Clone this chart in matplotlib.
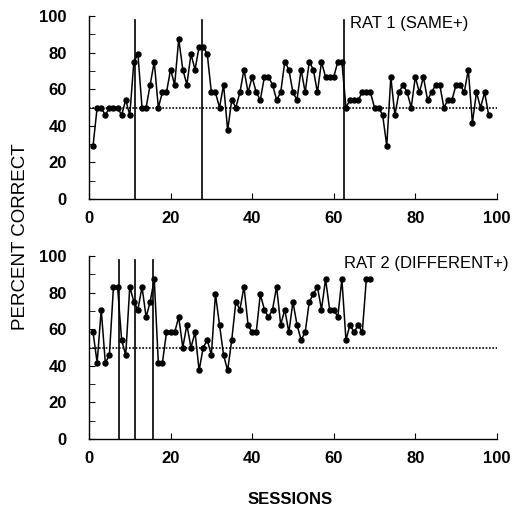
import numpy as np
import matplotlib
matplotlib.use("Agg")
import matplotlib.pyplot as plt

plt.rcParams['font.family'] = ['Liberation Sans', 'DejaVu Sans']

# percent correct per session (24 trials per session)
rat1_pct = [29.2, 50, 50, 45.8, 50, 50, 50, 45.8, 54.2, 45.8,
            75, 79.2, 50, 50, 62.5, 75, 50, 58.3, 58.3, 70.8,
            62.5, 87.5, 70.8, 62.5, 79.2, 70.8, 83.3, 83.3, 79.2, 58.3,
            58.3, 50, 62.5, 37.5, 54.2, 50, 58.3, 70.8, 58.3, 66.7,
            58.3, 54.2, 66.7, 66.7, 62.5, 54.2, 58.3, 75, 70.8, 58.3,
            54.2, 70.8, 58.3, 75, 70.8, 58.3, 75, 66.7, 66.7, 66.7,
            75, 75, 50, 54.2, 54.2, 54.2, 58.3, 58.3, 58.3, 50,
            50, 45.8, 29.2, 66.7, 45.8, 58.3, 62.5, 58.3, 50, 66.7,
            58.3, 66.7, 54.2, 58.3, 62.5, 62.5, 50, 54.2, 54.2, 62.5,
            62.5, 58.3, 70.8, 41.7, 58.3, 50, 58.3, 45.8]

rat2_pct = [58.3, 41.7, 70.8, 41.7, 45.8, 83.3, 83.3, 54.2, 45.8, 83.3,
            75, 70.8, 83.3, 66.7, 75, 87.5, 41.7, 41.7, 58.3, 58.3,
            58.3, 66.7, 50, 62.5, 50, 58.3, 37.5, 50, 54.2, 45.8,
            79.2, 62.5, 45.8, 37.5, 54.2, 75, 70.8, 83.3, 62.5, 58.3,
            58.3, 79.2, 70.8, 66.7, 70.8, 83.3, 62.5, 70.8, 58.3, 75,
            62.5, 54.2, 58.3, 75, 79.2, 83.3, 70.8, 87.5, 70.8, 70.8,
            66.7, 87.5, 54.2, 62.5, 58.3, 62.5, 58.3, 87.5, 87.5]

rat1_shifts = [11.3, 27.75, 62.5]
rat2_shifts = [7.25, 11.3, 15.7]

panels = [
    ("RAT 1 (SAME+)", rat1_pct, rat1_shifts, (64, 96)),
    ("RAT 2 (DIFFERENT+)", rat2_pct, rat2_shifts, (62.5, 96)),
]

fig = plt.figure(figsize=(5.15, 5.05), dpi=100)
ax_top = fig.add_axes([0.1728, 0.606, 0.792, 0.362])
ax_bot = fig.add_axes([0.1728, 0.1307, 0.792, 0.362])

for ax, (title, pct, shifts, txt_pos) in zip([ax_top, ax_bot], panels):
    sessions = np.arange(1, len(pct) + 1)
    ax.axhline(50, color='black', linestyle=(0, (1, 1)), linewidth=1.2)
    for s in shifts:
        ax.plot([s, s], [0, 98], color='black', linewidth=1.2)
    ax.plot(sessions, pct, color='black', linewidth=1.1,
            marker='o', markersize=3.6)
    ax.text(txt_pos[0], txt_pos[1], title, fontsize=12, ha='left', va='center')

    ax.set_xlim(0, 100)
    ax.set_ylim(0, 100)
    ax.set_xticks(range(0, 101, 20))
    ax.set_yticks(range(0, 101, 20))
    ax.set_yticks(range(0, 101, 10), minor=True)
    ax.spines['top'].set_visible(False)
    ax.spines['right'].set_visible(False)
    ax.spines['left'].set_linewidth(1.0)
    ax.spines['bottom'].set_linewidth(1.0)
    ax.tick_params(axis='y', which='both', direction='in', length=4, pad=16)
    ax.tick_params(axis='x', direction='in', length=4, pad=9)
    for lab in ax.get_xticklabels() + ax.get_yticklabels():
        lab.set_fontsize(12)
        lab.set_fontweight('bold')

fig.text(0.039, 0.531, 'PERCENT CORRECT', rotation=90, fontsize=13.5,
         ha='center', va='center')
fig.text(0.563, 1 - 499 / 505, 'SESSIONS', fontsize=12, fontweight='bold',
         ha='center', va='center')

fig.savefig('out.png', dpi=100)
